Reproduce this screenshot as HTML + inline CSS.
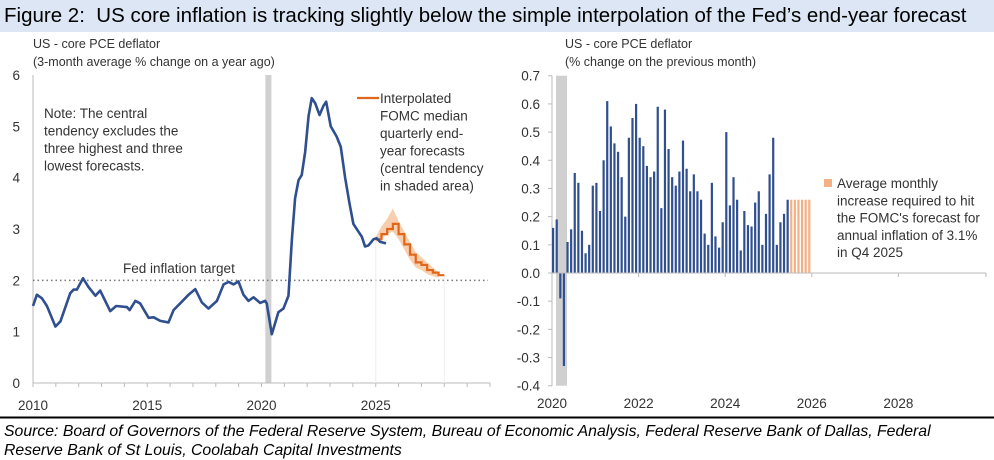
<!DOCTYPE html>
<html><head><meta charset="utf-8"><style>
body{margin:0;width:994px;height:459px;background:#fff;font-family:"Liberation Sans",sans-serif;overflow:hidden;position:relative}
.t{position:absolute;left:0;top:0;width:994px;height:32px;background:#dce6f4;font-size:20.5px;line-height:32px;padding-left:4px;box-sizing:border-box;color:#000;white-space:nowrap}
.src{position:absolute;left:4px;top:422px;font-size:15.8px;font-style:italic;line-height:19px;color:#000;white-space:nowrap}
svg text{font-family:"Liberation Sans",sans-serif;fill:#333}
</style></head><body>
<div class="t">Figure 2:&nbsp; US core inflation is tracking slightly below the simple interpolation of the Fed’s end-year forecast</div>
<svg id="s" width="994" height="459" style="position:absolute;left:0;top:0"></svg>
<div class="src">Source: Board of Governors of the Federal Reserve System, Bureau of Economic Analysis, Federal Reserve Bank of Dallas, Federal<br>Reserve Bank of St Louis, Coolabah Capital Investments</div>
<script>
const lineDates=[2010.0,2010.17,2010.39,2010.61,2010.98,2011.2,2011.63,2011.78,2011.92,2012.19,2012.43,2012.73,2012.94,2013.16,2013.38,2013.64,2014.11,2014.23,2014.48,2014.69,2015.06,2015.28,2015.57,2015.93,2016.15,2016.44,2016.81,2017.1,2017.39,2017.68,2018.05,2018.34,2018.56,2018.78,2018.99,2019.21,2019.43,2019.65,2019.94,2020.16,2020.23,2020.45,2020.74,2020.96,2021.18,2021.33,2021.47,2021.62,2021.76,2021.91,2022.06,2022.2,2022.35,2022.54,2022.71,2022.83,2023.03,2023.29,2023.47,2023.66,2023.85,2024.02,2024.24,2024.39,2024.53,2024.68,2024.9,2025.04,2025.19,2025.45];
const lineValues=[1.5,1.72,1.65,1.5,1.1,1.2,1.75,1.82,1.82,2.04,1.87,1.7,1.8,1.6,1.4,1.5,1.48,1.42,1.6,1.55,1.27,1.28,1.21,1.18,1.42,1.55,1.72,1.83,1.57,1.45,1.6,1.92,1.97,1.92,1.98,1.72,1.6,1.67,1.56,1.6,1.55,0.95,1.38,1.45,1.7,2.8,3.6,3.95,4.05,4.5,5.2,5.55,5.45,5.22,5.4,5.48,5.0,4.8,4.6,4.0,3.5,3.1,2.95,2.85,2.66,2.68,2.8,2.82,2.75,2.72];
const fcQuarters=[2025.0,2025.25,2025.5,2025.75,2026.0,2026.25,2026.5,2026.75,2027.0,2027.25,2027.5,2027.75];
const fcMedian=[2.8,2.9,3.0,3.1,2.9,2.7,2.5,2.35,2.3,2.2,2.15,2.1];
const fcLow=[2.75,2.8,2.9,2.95,2.8,2.6,2.4,2.25,2.2,2.12,2.08,2.05];
const fcHigh=[2.85,3.05,3.2,3.4,3.15,2.95,2.75,2.55,2.45,2.35,2.25,2.15];
const leftYTicks=[0,1,2,3,4,5,6];
const leftXTicks=[2010,2015,2020,2025];
const barValues=[0.16,0.19,-0.09,-0.33,0.11,0.155,0.355,0.32,0.15,0.07,0.10,0.31,0.32,0.22,0.40,0.61,0.52,0.46,0.43,0.34,0.20,0.48,0.55,0.60,0.48,0.45,0.38,0.34,0.36,0.59,0.23,0.58,0.44,0.34,0.31,0.36,0.47,0.37,0.29,0.35,0.29,0.26,0.14,0.10,0.32,0.13,0.09,0.18,0.50,0.24,0.34,0.26,0.08,0.22,0.17,0.165,0.25,0.29,0.10,0.21,0.35,0.48,0.10,0.18,0.21,0.26];
const requiredValues=[0.26,0.26,0.26,0.26,0.26,0.26];
const rightYTicks=[0.7,0.6,0.5,0.4,0.3,0.2,0.1,0.0,-0.1,-0.2,-0.3,-0.4];
const rightXTicks=[2020,2022,2024,2026,2028];

const svg=document.getElementById('s');const NS='http://www.w3.org/2000/svg';
function el(t,a,n,i){const e=document.createElementNS(NS,t);for(const k in a)e.setAttribute(k,a[k]);


svg.appendChild(e);return e;}
function tx(x,y,s,n,anchor,size){const e=el('text',{x:x,y:y,'font-size':size||13,'text-anchor':anchor||'start'},n);e.textContent=s;return e;}
el('line',{x1:0,y1:417.5,x2:994,y2:417.5,stroke:'#000','stroke-width':2},'bottom-rule');
// LEFT
const lx=y=>33+(y-2010)*22.85, ly=v=>383-v*51.33;
el('rect',{x:lx(2020.17),y:ly(6),width:6,height:ly(0)-ly(6),fill:'#d0d0d0'},'recession-shade-left');
tx(33,48,'US - core PCE deflator','left-axis-title-1','start',12.5);
tx(33,66,'(3-month average % change on a year ago)','left-axis-title-2','start',12.5);
el('line',{x1:lx(2010),y1:ly(6),x2:lx(2010),y2:ly(0),stroke:'#bbb'},'left-y-axis');
el('line',{x1:lx(2010),y1:ly(0),x2:490,y2:ly(0),stroke:'#bbb'},'left-x-axis');
leftYTicks.forEach(v=>{tx(20,ly(v)+5,v,'left-y-tick-'+v,'end',13.5);});
for(let y=2010;y<=2030;y++){el('line',{x1:lx(y),y1:ly(0),x2:lx(y),y2:ly(0)+4,stroke:'#bbb'},'left-x-tickmark');}
leftXTicks.forEach(y=>tx(lx(y),ly(0)+27,y,'left-x-label-'+y,'middle',13.5));
el('line',{x1:lx(2010),y1:ly(2),x2:488,y2:ly(2),stroke:'#777','stroke-width':1.5,'stroke-dasharray':'1.5,3'},'fed-target-line');
tx(123,273,'Fed inflation target','fed-target-label','start',13.5);
['Note: The central','tendency excludes the','three highest and three','lowest forecasts.'].forEach((s,i)=>tx(44,118+i*17.5,s,'note-line-'+i,'start',13.5));
el('line',{x1:lx(2025),y1:ly(2.8),x2:lx(2025),y2:ly(0),stroke:'#eee'},'fc-start-line');
el('line',{x1:lx(2028),y1:ly(2.1),x2:lx(2028),y2:ly(0),stroke:'#eee'},'fc-end-line');
let bp=fcQuarters.map((q,i)=>lx(q)+','+ly(fcHigh[i]));bp=bp.concat(fcQuarters.map((q,i)=>lx(q)+','+ly(fcLow[i])).reverse());
el('polygon',{points:bp.join(' '),fill:'#f8cfae'},'central-tendency-band');
let sp=[];fcQuarters.forEach((q,i)=>{sp.push(lx(q)+','+ly(fcMedian[i]));sp.push(lx(q+0.25)+','+ly(fcMedian[i]));});
el('polyline',{points:sp.join(' '),fill:'none',stroke:'#e0661a','stroke-width':2.2},'fomc-median-line');
el('polyline',{points:lineDates.map((d,i)=>lx(d)+','+ly(lineValues[i])).join(' '),fill:'none',stroke:'#2f4f8f','stroke-width':2.6,'stroke-linejoin':'round'},'core-pce-line');
el('line',{x1:357,y1:98,x2:379,y2:98,stroke:'#e0661a','stroke-width':2.2},'legend-swatch-left');
['Interpolated','FOMC median','quarterly end-','year forecasts','(central tendency','in shaded area)'].forEach((s,i)=>tx(380,103+i*17.5,s,'legend-left-'+i,'start',13.5));
// RIGHT
const rx=y=>552+(y-2020)*43.3, ry=v=>273-v*281.8;
el('rect',{x:556,y:ry(0.7),width:11,height:ry(-0.4)-ry(0.7),fill:'#d0d0d0'},'recession-shade-right');
tx(565,48,'US - core PCE deflator','right-axis-title-1','start',12.5);
tx(565,66,'(% change on the previous month)','right-axis-title-2','start',12.5);
el('line',{x1:552,y1:ry(0.7),x2:552,y2:ry(-0.4),stroke:'#bbb'},'right-y-axis');
rightYTicks.forEach(v=>{el('line',{x1:548,y1:ry(v),x2:552,y2:ry(v),stroke:'#bbb'},'right-y-tickmark');tx(540,ry(v)+5,v.toFixed(1),'right-y-tick','end',13.5);});
barValues.forEach((v,i)=>{const x=rx(2020+i/12);el('rect',{x:x,y:Math.min(ry(v),ry(0)),width:2.2,height:Math.abs(ry(v)-ry(0)),fill:'#2f4f8f'},'monthly-bar');});
requiredValues.forEach((v,i)=>{const x=rx(2020+(barValues.length+i)/12);el('rect',{x:x,y:ry(v),width:2.2,height:ry(0)-ry(v),fill:'#f4b183'},'required-bar');});
el('line',{x1:552,y1:ry(0),x2:986,y2:ry(0),stroke:'#bbb'},'right-x-axis');
rightXTicks.forEach(y=>{el('line',{x1:rx(y),y1:ry(0),x2:rx(y),y2:ry(0)+4,stroke:'#bbb'},'right-x-tickmark');tx(rx(y),408,y,'right-x-label-'+y,'middle',13.5);});
el('line',{x1:986,y1:ry(0),x2:986,y2:ry(0)+4,stroke:'#bbb'},'right-x-tickmark-end');
el('rect',{x:824,y:179,width:8,height:8,fill:'#f4b183'},'legend-swatch-right');
['Average monthly','increase required to hit',"the FOMC's forecast for",'annual inflation of 3.1%','in Q4 2025'].forEach((s,i)=>tx(837,188+i*17.3,s,'legend-right-'+i,'start',13.5));
</script>
</body></html>
